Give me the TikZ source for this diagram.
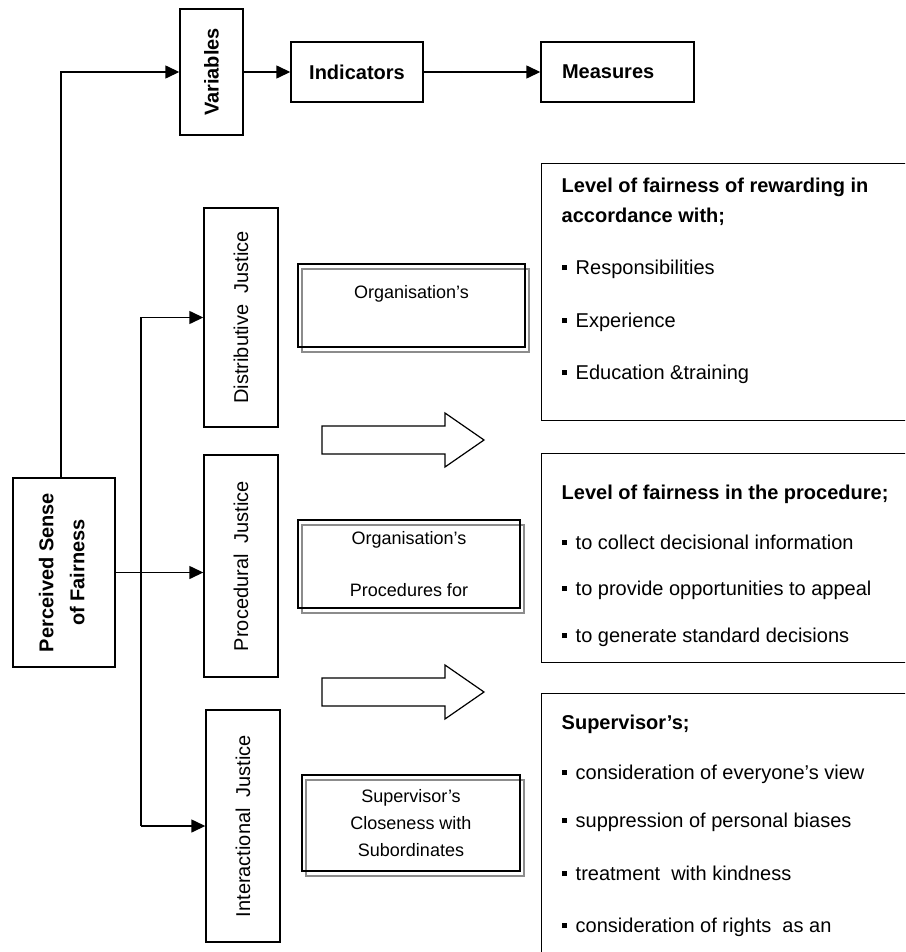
\documentclass[tikz,border=0pt]{standalone}
\usepackage{fontspec}
\setmainfont{Liberation Sans}
\usetikzlibrary{arrows.meta,shadows}
\newcommand{\sqbul}{\rule[4pt]{5pt}{5pt}\hspace{9pt}}

\begin{document}
\begin{tikzpicture}[x=1pt, y=-1pt, line width=1.4pt,
    hbox/.style={draw, inner sep=0pt, align=center, font=\fontsize{20}{24}\selectfont\bfseries},
    jbox/.style={draw, inner sep=0pt, minimum width=74pt, font=\fontsize{20}{24}\selectfont},
    dbox/.style={draw, inner sep=0pt, align=center, font=\fontsize{18}{27}\selectfont,
        copy shadow={shadow xshift=4pt, shadow yshift=-5pt, draw=black!45, fill=none, line width=1.2pt}},
    mbox/.style={draw, inner sep=0pt, anchor=north west, minimum width=400pt},
    mtext/.style={inner sep=0pt, anchor=north west, align=left, font=\fontsize{20}{24}\selectfont},
    arr/.style={-{Triangle[length=14pt,width=13pt]}},
    blk/.style={draw, line width=1.2pt, line join=miter}]
    \useasboundingbox (0,0) rectangle (905,952);
    \clip (0,0) rectangle (905,952);
    \node[hbox, minimum width=102pt, minimum height=189pt] (perc) at (64,572.5)
        {\rotatebox{90}{\begin{tabular}{@{}c@{}}Perceived Sense\\[7pt]of Fairness\end{tabular}}};
    \node[hbox, minimum width=63pt, minimum height=126pt] (var) at (211.5,72) {\rotatebox{90}{Variables}};
    \node[hbox, minimum width=132pt, minimum height=60pt] (ind) at (357,72) {Indicators};
    \node[hbox, minimum width=153pt, minimum height=60pt, text width=111pt, align=left] (meas) at (617.5,72) {Measures};
    \node[jbox, minimum height=219pt] (dist) at (241,317.5) {\rotatebox{90}{Distributive\ \ Justice}};
    \node[jbox, minimum height=222pt] (proc) at (241,566) {\rotatebox{90}{Procedural\ \ Justice}};
    \node[jbox, minimum height=232pt] (inter) at (243,826) {\rotatebox{90}{Interactional\ \ Justice}};
    \coordinate (tr) at (141,0);
    \draw[arr] ([xshift=-3pt]perc.north) |- (var.west);
    \draw[arr] (var.east) -- (ind.west);
    \draw[arr] (ind.east) -- (meas.west);
    \draw[arr] (perc.east) -- (perc.east -| proc.west);
    \draw[arr] (tr |- inter.west) -- (inter.west);
    \draw[arr] (tr |- inter.west) |- (dist.west);
    \node[dbox, minimum width=227pt, minimum height=83pt] (org) at (411.5,305.5) {Organisation’s\\\mbox{}};
    \node[dbox, minimum width=222pt, minimum height=88pt] (orgp) at (409,564) {Organisation’s\\[25pt]Procedures for};
    \node[dbox, minimum width=218pt, minimum height=96pt] (sup) at (411,823) {Supervisor’s\\Closeness with\\Subordinates};
    \foreach \yy in {440,692}
        \draw[blk] (322,\yy-14) -- (445,\yy-14) -- (445,\yy-27) -- (484,\yy)
            -- (445,\yy+27) -- (445,\yy+14) -- (322,\yy+14) -- cycle;
    \node[mbox, minimum height=257pt] (lvl) at (541,163) {};
    \node[mtext] (lvlt) at (561,177) {\textbf{Level of fairness of rewarding in}\\[6pt]\textbf{accordance with;}\\[28pt]
        \sqbul Responsibilities\\[29pt]\sqbul Experience\\[28pt]\sqbul Education \&training};
    \node[mbox, minimum height=209pt] (proct) at (541,453) {};
    \node[mtext] (proctt) at (561,484) {\textbf{Level of fairness in the procedure;}\\[26pt]
        \sqbul to collect decisional information\\[22pt]\sqbul to provide opportunities to appeal\\[23pt]
        \sqbul to generate standard decisions};
    \node[mbox, minimum height=300pt] (supv) at (541,693) {};
    \node[mtext] (supvt) at (561,714) {\textbf{Supervisor’s;}\\[26pt]\sqbul consideration of everyone’s view\\[24pt]
        \sqbul suppression of personal biases\\[29pt]\sqbul treatment\ \ with kindness\\[28pt]
        \sqbul consideration of rights\ \ as an};
\end{tikzpicture}
\end{document}
